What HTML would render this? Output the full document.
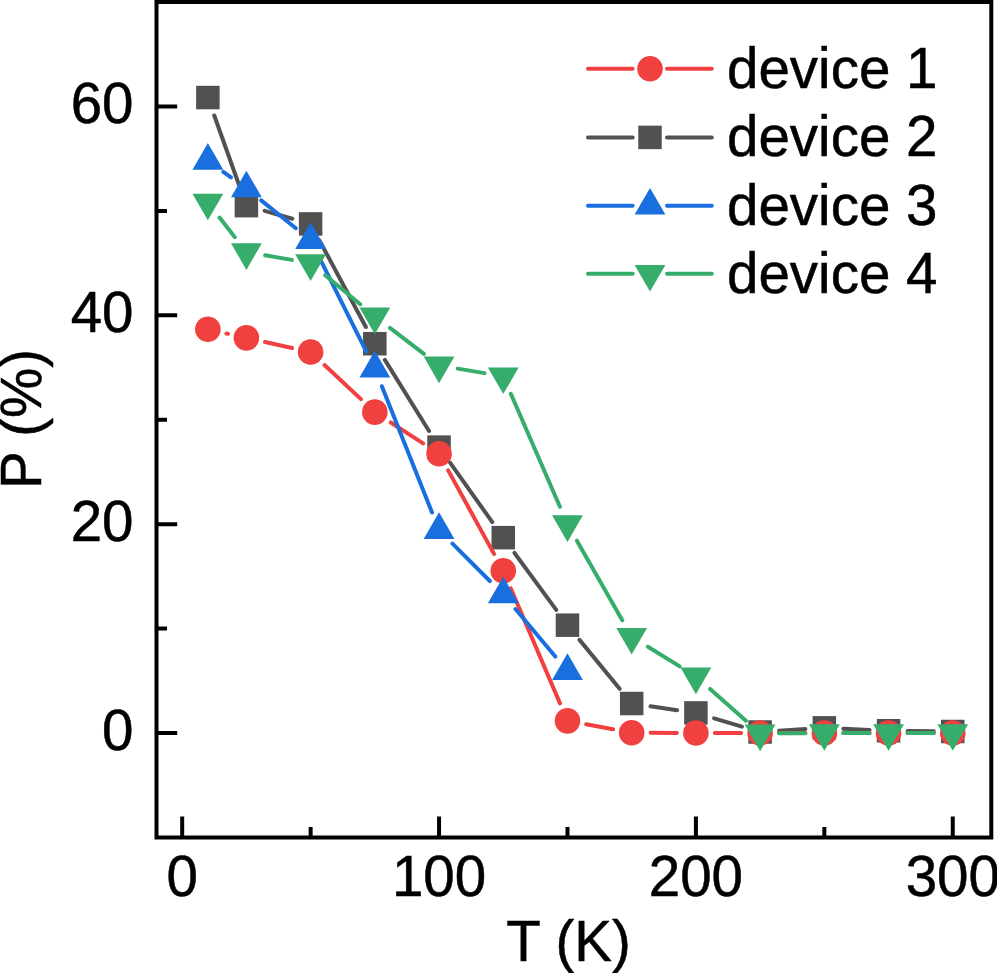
<!DOCTYPE html>
<html><head><meta charset="utf-8"><title>P vs T</title>
<style>
html,body{margin:0;padding:0;background:#fff;}
body{width:997px;height:973px;overflow:hidden;}
svg{display:block;}
text{font-family:"Liberation Sans",sans-serif;font-size:56.5px;fill:#000;stroke:#000;stroke-width:0.5px;}
.lg{font-size:56.5px;}
</style></head><body>
<svg width="997" height="973" viewBox="0 0 997 973">
<rect x="0" y="0" width="997" height="973" fill="#fff"/>
<g id="d2"><path d="M214.25 115.46L240.02 187.76M264.68 210.85L292.34 218.73M319.59 240.68L365.86 326.97M384.86 359.86L429.02 430.97M450.04 462.61L492.27 522.16M514.50 552.98L556.24 609.86M579.52 639.87L619.65 688.81M650.49 706.26L677.11 710.15M714.12 718.33L741.91 726.60M779.08 730.78L805.38 729.07M843.32 728.70L869.58 729.90M907.55 730.98L933.77 731.28" stroke="#515151" stroke-width="4.0" stroke-linecap="round" fill="none"/>
<rect x="196.12" y="85.81" width="23.5" height="23.5" fill="#515151"/>
<rect x="234.65" y="193.90" width="23.5" height="23.5" fill="#515151"/>
<rect x="298.87" y="212.18" width="23.5" height="23.5" fill="#515151"/>
<rect x="363.08" y="331.97" width="23.5" height="23.5" fill="#515151"/>
<rect x="427.30" y="435.36" width="23.5" height="23.5" fill="#515151"/>
<rect x="491.51" y="525.91" width="23.5" height="23.5" fill="#515151"/>
<rect x="555.73" y="613.43" width="23.5" height="23.5" fill="#515151"/>
<rect x="619.94" y="691.76" width="23.5" height="23.5" fill="#515151"/>
<rect x="684.16" y="701.16" width="23.5" height="23.5" fill="#515151"/>
<rect x="748.37" y="720.27" width="23.5" height="23.5" fill="#515151"/>
<rect x="812.59" y="716.09" width="23.5" height="23.5" fill="#515151"/>
<rect x="876.81" y="719.01" width="23.5" height="23.5" fill="#515151"/>
<rect x="941.02" y="719.75" width="23.5" height="23.5" fill="#515151"/></g>
<g id="d1"><path d="M226.42 333.43L227.85 333.75M264.95 341.97L292.07 347.97M324.49 365.05L360.95 399.15M390.78 422.45L423.10 443.37M448.18 470.35L494.13 554.11M510.74 588.23L560.00 703.38M586.16 724.31L613.01 729.29M650.69 732.84L676.91 732.97M714.91 733.06L741.12 733.06M779.12 733.06L805.34 733.06M843.34 733.06L869.56 733.06M907.56 733.06L933.77 733.06" stroke="#F14040" stroke-width="4.0" stroke-linecap="round" fill="none"/>
<circle cx="207.87" cy="329.31" r="12.8" fill="#F14040"/>
<circle cx="246.40" cy="337.87" r="12.8" fill="#F14040"/>
<circle cx="310.62" cy="352.07" r="12.8" fill="#F14040"/>
<circle cx="374.83" cy="412.13" r="12.8" fill="#F14040"/>
<circle cx="439.05" cy="453.69" r="12.8" fill="#F14040"/>
<circle cx="503.26" cy="570.77" r="12.8" fill="#F14040"/>
<circle cx="567.48" cy="720.84" r="12.8" fill="#F14040"/>
<circle cx="631.69" cy="732.75" r="12.8" fill="#F14040"/>
<circle cx="695.91" cy="733.06" r="12.8" fill="#F14040"/>
<circle cx="760.12" cy="733.06" r="12.8" fill="#F14040"/>
<circle cx="824.34" cy="733.06" r="12.8" fill="#F14040"/>
<circle cx="888.56" cy="733.06" r="12.8" fill="#F14040"/>
<circle cx="952.77" cy="733.06" r="12.8" fill="#F14040"/></g>
<g id="d3"><path d="M223.30 171.83L230.97 177.34M261.20 200.34L295.82 228.20M319.11 257.11L366.34 351.58M381.85 386.23L432.03 512.48M452.47 543.59L489.84 581.03M515.46 609.04L555.28 656.57" stroke="#1A6FDF" stroke-width="4.0" stroke-linecap="round" fill="none"/>
<polygon points="207.87,142.96 192.47,169.64 223.27,169.64" fill="#1A6FDF"/>
<polygon points="246.40,170.64 231.00,197.31 261.80,197.31" fill="#1A6FDF"/>
<polygon points="310.62,222.34 295.22,249.01 326.02,249.01" fill="#1A6FDF"/>
<polygon points="374.83,350.79 359.43,377.47 390.23,377.47" fill="#1A6FDF"/>
<polygon points="439.05,512.36 423.65,539.03 454.45,539.03" fill="#1A6FDF"/>
<polygon points="503.26,576.69 487.86,603.37 518.66,603.37" fill="#1A6FDF"/>
<polygon points="567.48,653.35 552.08,680.02 582.88,680.02" fill="#1A6FDF"/></g>
<g id="d4"><path d="M219.53 217.53L234.75 237.12M265.13 255.33L291.89 259.90M325.24 275.22L360.21 304.23M389.93 327.90L423.95 353.90M457.78 368.61L484.53 373.14M510.83 393.73L559.91 506.76M576.89 540.69L622.28 620.27M647.87 646.74L679.73 666.38M710.12 688.97L745.92 720.76M779.12 733.28L805.34 733.16M843.34 733.06L869.56 733.06M907.56 733.06L933.77 733.06" stroke="#37AD6B" stroke-width="4.0" stroke-linecap="round" fill="none"/>
<polygon points="207.87,220.30 192.47,193.63 223.27,193.63" fill="#37AD6B"/>
<polygon points="246.40,269.91 231.00,243.24 261.80,243.24" fill="#37AD6B"/>
<polygon points="310.62,280.88 295.22,254.20 326.02,254.20" fill="#37AD6B"/>
<polygon points="374.83,334.14 359.43,307.47 390.23,307.47" fill="#37AD6B"/>
<polygon points="439.05,383.22 423.65,356.55 454.45,356.55" fill="#37AD6B"/>
<polygon points="503.26,394.09 487.86,367.41 518.66,367.41" fill="#37AD6B"/>
<polygon points="567.48,541.97 552.08,515.30 582.88,515.30" fill="#37AD6B"/>
<polygon points="631.69,654.55 616.29,627.88 647.09,627.88" fill="#37AD6B"/>
<polygon points="695.91,694.14 680.51,667.46 711.31,667.46" fill="#37AD6B"/>
<polygon points="760.12,751.16 744.72,724.48 775.52,724.48" fill="#37AD6B"/>
<polygon points="824.34,750.84 808.94,724.17 839.74,724.17" fill="#37AD6B"/>
<polygon points="888.56,750.84 873.16,724.17 903.96,724.17" fill="#37AD6B"/>
<polygon points="952.77,750.84 937.37,724.17 968.17,724.17" fill="#37AD6B"/></g>
<rect x="156.5" y="2.0" width="834.80" height="835.50" fill="none" stroke="#000" stroke-width="4.0"/>
<path d="M156.5 733.06H177.2M156.5 524.19H177.2M156.5 315.31H177.2M156.5 106.44H177.2M156.5 628.62H167.0M156.5 419.75H167.0M156.5 210.88H167.0M182.19 837.5V816.4M439.05 837.5V816.4M695.91 837.5V816.4M952.77 837.5V816.4M310.62 837.5V827.0M567.48 837.5V827.0M824.34 837.5V827.0" stroke="#000" stroke-width="4.0" fill="none"/>
<text x="133.5" y="749.76" text-anchor="end">0</text>
<text x="133.5" y="540.89" text-anchor="end">20</text>
<text x="133.5" y="332.01" text-anchor="end">40</text>
<text x="133.5" y="123.14" text-anchor="end">60</text>
<text x="182.19" y="896" text-anchor="middle">0</text>
<text x="439.05" y="896" text-anchor="middle">100</text>
<text x="695.91" y="896" text-anchor="middle">200</text>
<text x="952.77" y="896" text-anchor="middle">300</text>
<text x="568.5" y="960.6" text-anchor="middle">T (K)</text>
<text transform="translate(41 419) rotate(-90)" text-anchor="middle">P (%)</text>
<path d="M588 68.7H632.7M667 68.7H711.8" stroke="#F14040" stroke-width="4.0" stroke-linecap="round" fill="none"/>
<circle cx="650.00" cy="68.70" r="12.8" fill="#F14040"/>
<text class="lg" x="727.0" y="87.70">device 1</text>
<path d="M588 137.4H632.7M667 137.4H711.8" stroke="#515151" stroke-width="4.0" stroke-linecap="round" fill="none"/>
<rect x="638.25" y="125.65" width="23.5" height="23.5" fill="#515151"/>
<text class="lg" x="727.0" y="156.40">device 2</text>
<path d="M588 205.7H632.7M667 205.7H711.8" stroke="#1A6FDF" stroke-width="4.0" stroke-linecap="round" fill="none"/>
<polygon points="650.00,187.92 634.60,214.59 665.40,214.59" fill="#1A6FDF"/>
<text class="lg" x="727.0" y="224.70">device 3</text>
<path d="M588 273.8H632.7M667 273.8H711.8" stroke="#37AD6B" stroke-width="4.0" stroke-linecap="round" fill="none"/>
<polygon points="650.00,291.58 634.60,264.91 665.40,264.91" fill="#37AD6B"/>
<text class="lg" x="727.0" y="292.80">device 4</text>
</svg></body></html>
